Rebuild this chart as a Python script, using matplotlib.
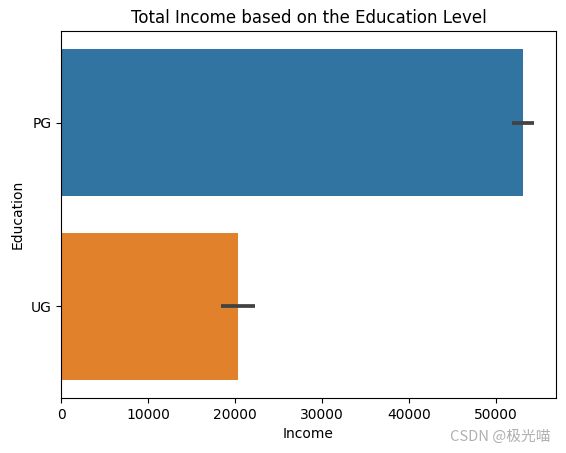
import matplotlib
matplotlib.use("Agg")
import matplotlib.pyplot as plt

categories = ["PG", "UG"]
income_mean = [53100, 20350]
ci_low = [51850, 18400]
ci_high = [54350, 22250]
colors = ["#3274a1", "#e1812c"]

fig = plt.figure(figsize=(5.66, 4.53), dpi=100)
ax = fig.add_axes([61/566, 1 - 398/453, (556-61)/566, (398-31)/453])

ys = list(range(len(categories)))
ax.barh(ys, income_mean, height=0.8, color=colors)
for y, lo, hi in zip(ys, ci_low, ci_high):
    ax.plot([lo, hi], [y, y], color="#424242", linewidth=2.7, solid_capstyle="butt")

ax.set_yticks(ys)
ax.set_yticklabels(categories)
ax.set_ylim(1.5, -0.5)
ax.set_xlim(0, 56900)
ax.set_xlabel("Income")
ax.set_ylabel("Education")
ax.set_title("Total Income based on the Education Level")

fig.text(551/566, 1 - 437/453, "CSDN @极光喵", ha="right", va="center",
         fontsize=10.6, color="#b0b0b0", family=["Noto Sans CJK SC", "DejaVu Sans"])

fig.savefig("out.png", dpi=100)
